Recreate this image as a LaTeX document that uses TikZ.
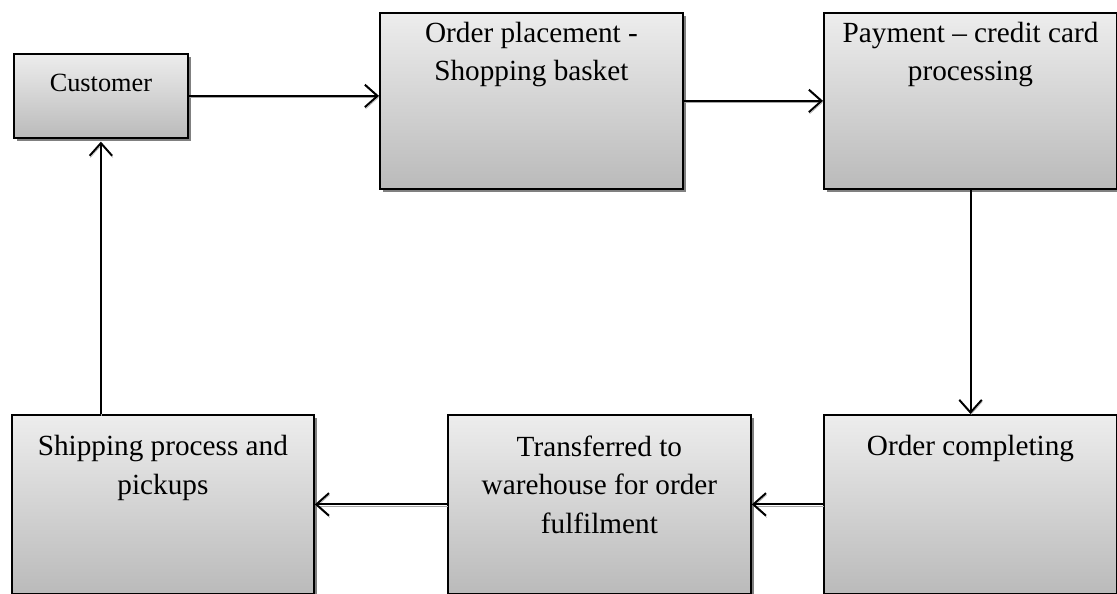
\documentclass[tikz,border=0pt]{standalone}
\usepackage{fontspec}
\setmainfont{Liberation Serif}
\usepackage{tikz}
\usetikzlibrary{arrows.meta,shadows,calc,positioning}

\tikzset{
	stage/.style={draw=black,line width=1.3pt,top color=black!7,bottom color=black!27,
		drop shadow={shadow xshift=2pt,shadow yshift=-2pt,fill=black!50,opacity=1},
		anchor=north west,inner sep=0pt,font=\fontsize{20.8}{27.4}\selectfont},
	flow/.style={-{Straight Barb[length=9pt,width=16pt,line width=1.4pt]},line width=1.4pt,
		preaction={draw=black!35,transform canvas={shift={(0.5pt,-1.2pt)}}}}
}
% width, height, top gap, text
\newcommand{\stagetext}[4]{\parbox[c][#2][t]{#1}{\centering\vspace*{#3}#4\par}}

\begin{document}
\begin{tikzpicture}
	\useasboundingbox (0,0) rectangle (27.925,14.85);
	\node[stage,font=\fontsize{18.7}{24}\selectfont] (cust) at (0.325,13.525) {\stagetext{4.35cm}{2.1cm}{14.4pt}{Customer}};
	\node[stage] (order) at (9.475,14.55) {\stagetext{7.575cm}{4.4cm}{6.5pt}{Order placement -\\Shopping basket}};
	\node[stage] (pay) at (20.575,14.55) {\stagetext{7.33cm}{4.4cm}{6.5pt}{Payment – credit card\\processing}};
	\node[stage] (comp) at (20.575,4.5) {\stagetext{7.33cm}{4.475cm}{14.6pt}{Order completing}};
	\node[stage] (trans) at (11.175,4.5) {\stagetext{7.575cm}{4.475cm}{14.6pt}{Transferred to\\warehouse for order\\fulfilment}};
	\node[stage] (ship) at (0.275,4.5) {\stagetext{7.55cm}{4.475cm}{14.6pt}{Shipping process and\\pickups}};
	
	\draw[flow] (cust.east) -- (cust.east -| order.west);
	\draw[flow] (order.east) -- (pay.west);
	\draw[flow] (pay.south) -- (comp.north);
	\draw[flow] (comp.west) -- (trans.east);
	\draw[flow] (trans.west) -- (ship.east);
	\draw[flow,shorten >=2pt] (cust.south |- ship.north) -- (cust.south);
\end{tikzpicture}
\end{document}
